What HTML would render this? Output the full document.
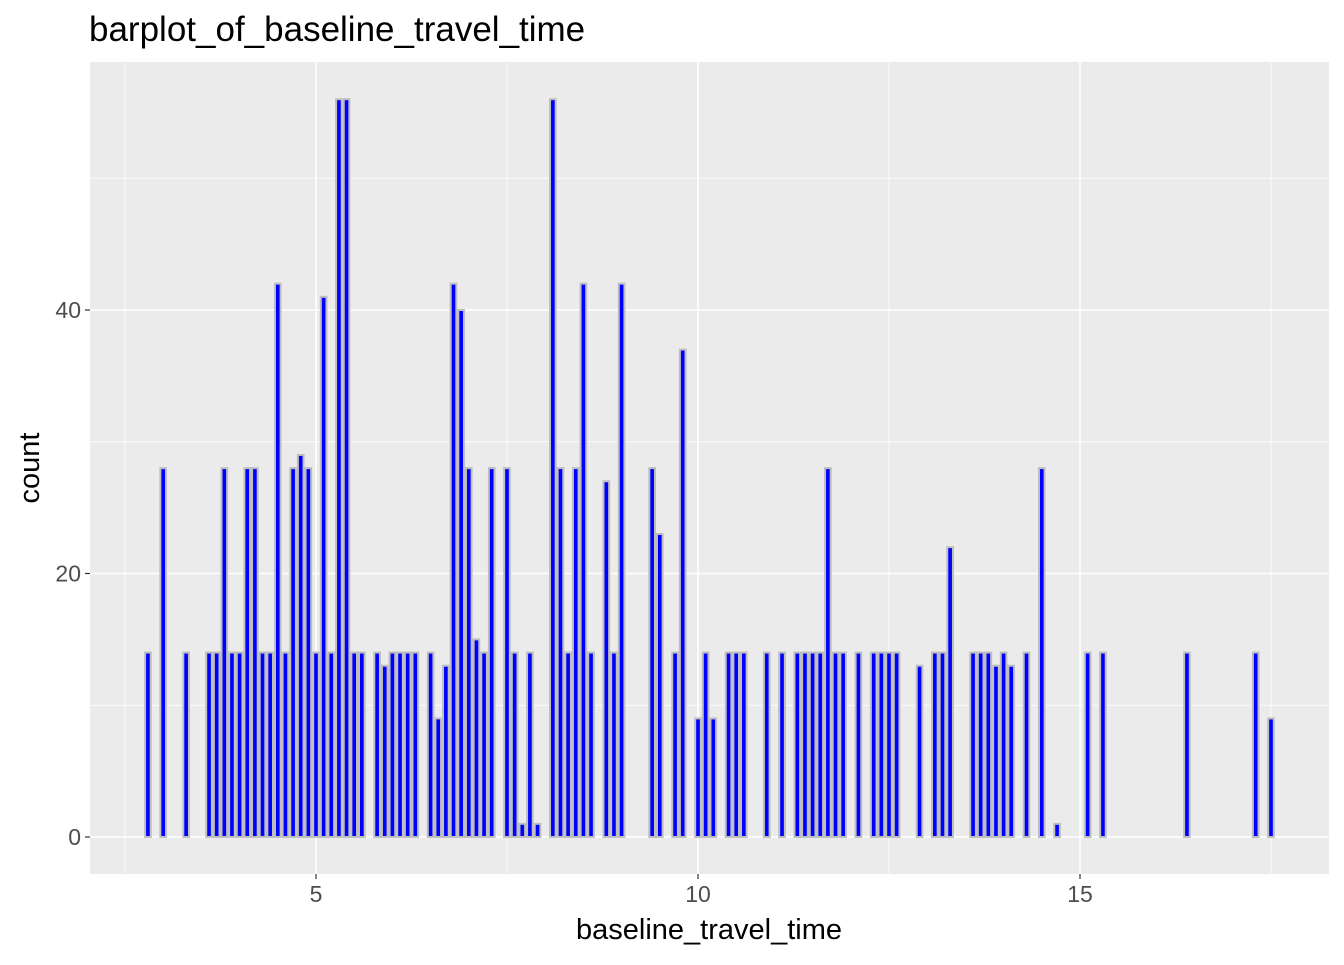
<!DOCTYPE html>
<html><head><meta charset="utf-8"><style>
body{margin:0;background:#fff;}
svg text{font-family:"Liberation Sans",sans-serif;}
</style></head><body>
<svg id="chart" width="1344" height="960" xmlns="http://www.w3.org/2000/svg">
<rect width="1344" height="960" fill="#fff"/>
<text x="89" y="41" font-size="35" fill="#000">barplot_of_baseline_travel_time</text>
<rect x="90" y="62" width="1239" height="812" fill="#ebebeb"/>
<g id="grid"></g>
<g id="bars"></g>
<g id="axes"></g>
<text x="709" y="939" font-size="29" text-anchor="middle">baseline_travel_time</text>
<text transform="translate(39,468) rotate(-90)" font-size="29" text-anchor="middle">count</text>
</svg>
<script>
const xValues=[2.8,3.0,3.3,3.6,3.7,3.8,3.9,4.0,4.1,4.2,4.3,4.4,4.5,4.6,4.7,4.8,4.9,5.0,5.1,5.2,5.3,5.4,5.5,5.6,5.8,5.9,6.0,6.1,6.2,6.3,6.5,6.6,6.7,6.8,6.9,7.0,7.1,7.2,7.3,7.5,7.6,7.7,7.8,7.9,8.1,8.2,8.3,8.4,8.5,8.6,8.8,8.9,9.0,9.4,9.5,9.7,9.8,10.0,10.1,10.2,10.4,10.5,10.6,10.9,11.1,11.3,11.4,11.5,11.6,11.7,11.8,11.9,12.1,12.3,12.4,12.5,12.6,12.9,13.1,13.2,13.3,13.6,13.7,13.8,13.9,14.0,14.1,14.3,14.5,14.7,15.1,15.3,16.4,17.3,17.5];
const counts=[14,28,14,14,14,28,14,14,28,28,14,14,42,14,28,29,28,14,41,14,56,56,14,14,14,13,14,14,14,14,14,9,13,42,40,28,15,14,28,28,14,1,14,1,56,28,14,28,42,14,27,14,42,28,23,14,37,9,14,9,14,14,14,14,14,14,14,14,14,28,14,14,14,14,14,14,14,13,14,14,22,14,14,14,13,14,13,14,28,1,14,14,14,14,9];
const xTicks=[5,10,15];
const yTicks=[0,20,40];
const xMinor=[2.5,7.5,12.5,17.5];
const yMinor=[10,30,50];
const binWidth=0.1;
const NS="http://www.w3.org/2000/svg";
const X=v=>316+(v-5)*76.4;
const Y=v=>837-v*13.175;
const PL=90,PR=1329,PT=62,PB=874;
function mk(tag,attrs,parent){const e=document.createElementNS(NS,tag);for(const k in attrs)e.setAttribute(k,attrs[k]);parent.appendChild(e);return e;}
const grid=document.getElementById('grid'),bars=document.getElementById('bars'),axes=document.getElementById('axes');
yMinor.forEach(v=>{const l=mk('line',{x1:PL,x2:PR,y1:Y(v),y2:Y(v),stroke:'#fff','stroke-width':0.8},grid);

});
xMinor.forEach(v=>{const l=mk('line',{x1:X(v),x2:X(v),y1:PT,y2:PB,stroke:'#fff','stroke-width':0.8},grid);

});
yTicks.forEach(v=>{const l=mk('line',{x1:PL,x2:PR,y1:Y(v),y2:Y(v),stroke:'#fff','stroke-width':1.6},grid);


const t=mk('line',{x1:PL-5,x2:PL,y1:Y(v),y2:Y(v),stroke:'#333','stroke-width':1.2},axes);


const tx=mk('text',{x:PL-9,y:Y(v)+8,'font-size':23,fill:'#4d4d4d','text-anchor':'end'},axes);tx.textContent=v;

});
xTicks.forEach(v=>{const l=mk('line',{x1:X(v),x2:X(v),y1:PT,y2:PB,stroke:'#fff','stroke-width':1.6},grid);


const t=mk('line',{x1:X(v),x2:X(v),y1:PB,y2:PB+5,stroke:'#333','stroke-width':1.2},axes);


const tx=mk('text',{x:X(v),y:PB+28,'font-size':23,fill:'#4d4d4d','text-anchor':'middle'},axes);tx.textContent=v;

});
xValues.forEach((v,i)=>{const x0=X(v-binWidth/2),x1=X(v+binWidth/2);
const r=mk('rect',{x:x0+1,y:Y(counts[i]),width:x1-x0-2,height:Y(0)-Y(counts[i]),fill:'#0000ff',stroke:'#bebebe','stroke-width':2},bars);

});
</script>
</body></html>
